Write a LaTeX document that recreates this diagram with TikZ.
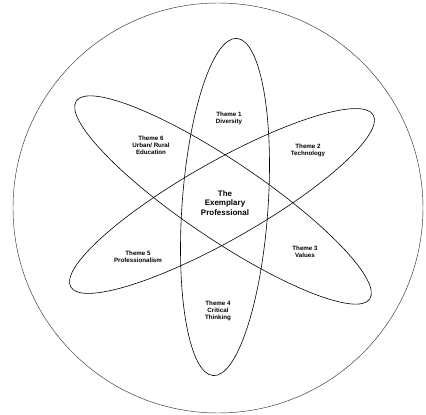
\documentclass[tikz,border=0pt]{standalone}
\usepackage{fontspec}
\setmainfont{Liberation Sans}
\usepackage{tikz}

\begin{document}
\begin{tikzpicture}[
  x=1pt, y=1pt,
  orbit/.style={draw, line width=0.6pt},
  theme/.style={align=center, font=\fontsize{6.2}{6.9}\selectfont\bfseries, inner sep=1pt},
  core/.style={align=center, font=\fontsize{8}{9.2}\selectfont\bfseries, inner sep=1pt}]
  \useasboundingbox (0,0) rectangle (426,415);
  % outer circle
  \draw[line width=0.45pt, black!80] (218,207) circle (205);
  % three orbits
  \draw[orbit, rotate around={86:(225,208)}] (225,208) ellipse (169 and 43);
  \draw[orbit, rotate around={-34:(223,215)}] (223,215) ellipse (177 and 39);
  \draw[orbit, rotate around={29.6:(222,214)}] (222,214) ellipse (174 and 39);
  % centre
  \node[core] (ep) at (225,212) {The\\Exemplary\\Professional};
  % themes
  \node[theme] (t1) at (229,297) {Theme 1\\Diversity};
  \node[theme] (t2) at (308,265) {Theme 2\\Technology};
  \node[theme] (t3) at (305,163) {Theme 3\\Values};
  \node[theme] (t4) at (218,104) {Theme 4\\Critical\\Thinking};
  \node[theme] (t5) at (138,158) {Theme 5\\Professionalism};
  \node[theme] (t6) at (151,270) {Theme 6\\Urban/ Rural\\Education};
\end{tikzpicture}
\end{document}
